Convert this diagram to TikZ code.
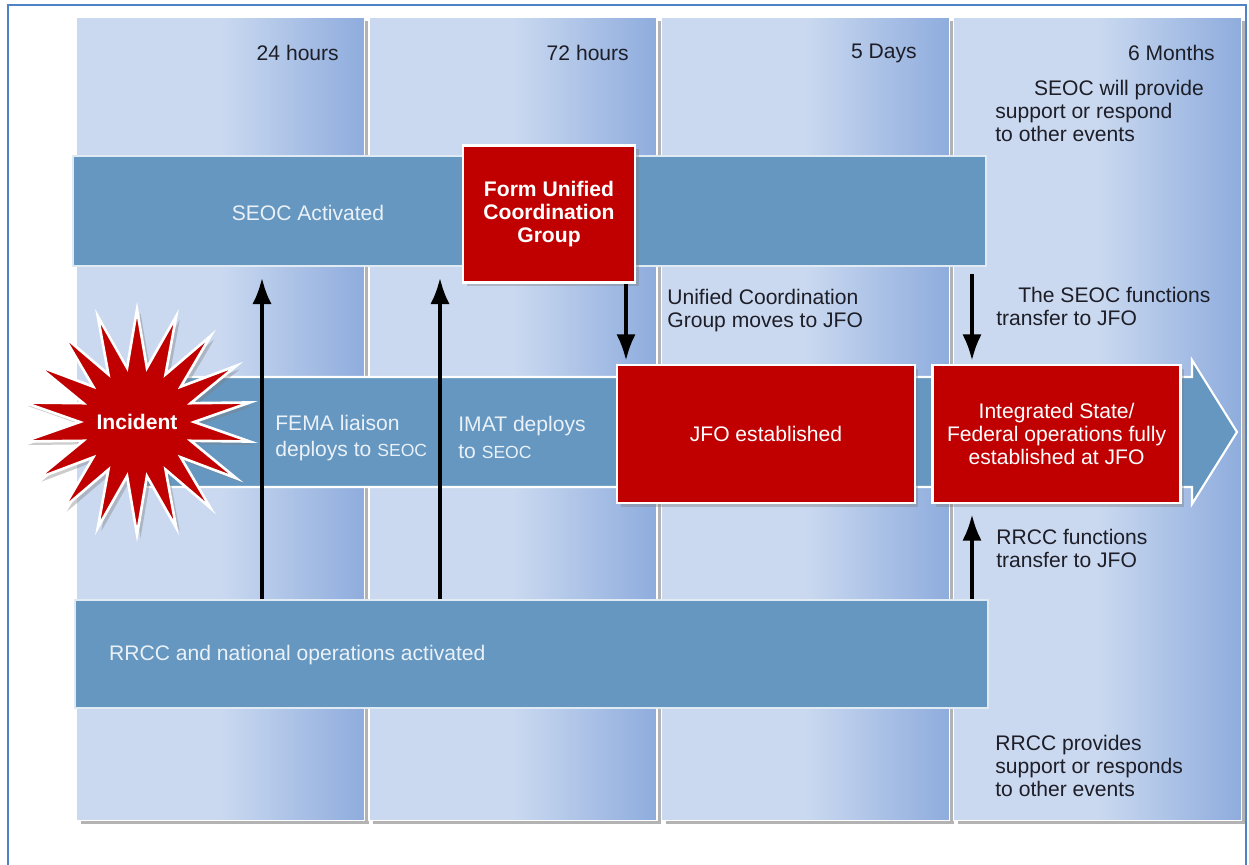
\documentclass[tikz,border=0pt]{standalone}
\usepackage{fontspec}
\setmainfont{Liberation Sans}
\usetikzlibrary{arrows.meta,positioning,shapes.symbols,shadows}
\definecolor{collight}{HTML}{CAD9F0}
\definecolor{coldark}{HTML}{8EACDD}
\definecolor{barblue}{HTML}{6597C0}
\definecolor{boxred}{HTML}{C00000}
\definecolor{bartext}{HTML}{EAF1F8}
\definecolor{frameblue}{HTML}{5082C8}
\definecolor{notetext}{HTML}{1E1E28}

\begin{document}
\begin{tikzpicture}[
    x=0.02cm,
    y=-0.02cm,
    >={Latex[length=15pt,width=11pt]},
    font=\fontsize{12}{13}\selectfont,
    column/.style={
		rectangle,
		draw=white,
		line width=0.8pt,
		left color=collight,
		right color=coldark,
		middle color=collight,
		minimum width=5.76cm,
		minimum height=16.06cm,
		anchor=north west,
		drop shadow={shadow xshift=2.5pt, shadow yshift=-2pt, opacity=0.6}
	},
	bar/.style={
		rectangle,
		fill=barblue,
		draw=white!80!barblue,
		line width=1pt,
		minimum width=18.26cm,
		anchor=north west
	},
	redbox/.style={
		rectangle,
		fill=boxred,
		draw=white,
		line width=1.5pt,
		text=white,
		align=center,
		minimum height=2.76cm,
		drop shadow={shadow xshift=2pt, shadow yshift=-2pt, opacity=0.4}
	},
	burst/.style={
		starburst,
		starburst points=18,
		starburst point height=1.15cm,
		random starburst=0,
		inner sep=0pt,
		fill=boxred,
		draw=white,
		line width=1.5pt,
		text=white,
		font=\fontsize{12}{13}\selectfont\bfseries,
		minimum width=1cm,
		minimum height=4.5cm,
		drop shadow={shadow xshift=2pt, shadow yshift=-2pt, opacity=0.4}
	},
	hours/.style={
		anchor=east,
		text=notetext
	},
	note/.style={
		anchor=north west,
		align=left,
		inner sep=0pt,
		text=notetext
	},
	bartxt/.style={
		text=bartext
	},
	move/.style={
		->,
		line width=2.2pt,
		black
	}
  ]

\useasboundingbox (0,0) rectangle (1249,865);
\draw [frameblue, line width=1.2pt] (8,5) rectangle (1246,875);

% // The time columns
\node [column] (col1) at (76,17) {};
\node [column, right=0.06cm of col1] (col2) {};
\node [column, right=0.06cm of col2] (col3) {};
\node [column, right=0.06cm of col3] (col4) {};

\node [hours] (h24) at (345,53) {24 hours};
\node [hours] (h72) at (635,53) {72 hours};
\node [hours] (d5) at (923,53) {5 Days};
\node [hours] (m6) at (1221,53) {6 Months};

% // The bars
\node [bar, minimum height=2.2cm] (seoc) at (72,155) {};
\node [bar, minimum height=2.16cm] (rrcc) at (74,599) {};
\draw [fill=barblue, draw=white, line width=1.2pt]
  (137,377) -- (1192,377) -- (1192,360) -- (1237,432) -- (1192,504) -- (1192,487) -- (137,487) -- cycle;

\node [bartxt] (seoclbl) at (308,213) {SEOC Activated};
\node [bartxt, anchor=west] (rrcclbl) at (103,655) {RRCC and national operations activated};

% // Incident and boxes
\node [burst] (incident) at (137,422) {Incident};

\node [redbox, font=\fontsize{12}{13}\selectfont\bfseries, minimum width=3.44cm, minimum height=2.74cm] (ucg) at (549,214)
 {Form Unified\\Coordination\\Group};
\node [redbox, minimum width=5.96cm] (jfo) at (766,434) {JFO established};
\node [redbox, minimum width=4.96cm, right=0.3cm of jfo] (isf)
 {Integrated State/\\Federal operations fully\\established at JFO};

\node [bartxt, note, text=bartext, font=\fontsize{12}{15}\selectfont] (fema) at (275,415)
 {FEMA liaison\\deploys to {\fontsize{10}{12}\selectfont SEOC}};
\node [bartxt, note, text=bartext, font=\fontsize{12}{15.5}\selectfont] (imat) at (458,416)
 {IMAT deploys\\to {\fontsize{10}{12}\selectfont SEOC}};

% // Notes
\node [note] (n6m) at (995,80) {\hspace*{22pt}SEOC will provide\\support or respond\\to other events};
\node [note] (nucg) at (667,289) {Unified Coordination\\Group moves to JFO};
\node [note] (nseoc) at (996,287) {\hspace*{12.5pt}The SEOC functions\\transfer to JFO};
\node [note] (nrrccf) at (996,529) {RRCC functions\\transfer to JFO};
\node [note] (nrrccp) at (995,735) {RRCC provides\\support or responds\\to other events};

% // Arrows
\coordinate (xf) at (262,0);
\coordinate (xi) at (440,0);
\coordinate (xu) at (626,0);
\coordinate (xs) at (972,0);

\draw [move, shorten >=0.22cm] (rrcc.north -| xf) -- (seoc.south -| xf);
\draw [move, shorten >=0.22cm] (rrcc.north -| xi) -- (seoc.south -| xi);
\draw [move, shorten >=0.06cm] (ucg.south -| xu) -- (jfo.north -| xu);
\draw [move, shorten <=0.14cm, shorten >=0.06cm] (seoc.south -| xs) -- (isf.north -| xs);
\draw [move, shorten >=0.2cm] (rrcc.north -| xs) -- (isf.south -| xs);

\end{tikzpicture}
\end{document}
